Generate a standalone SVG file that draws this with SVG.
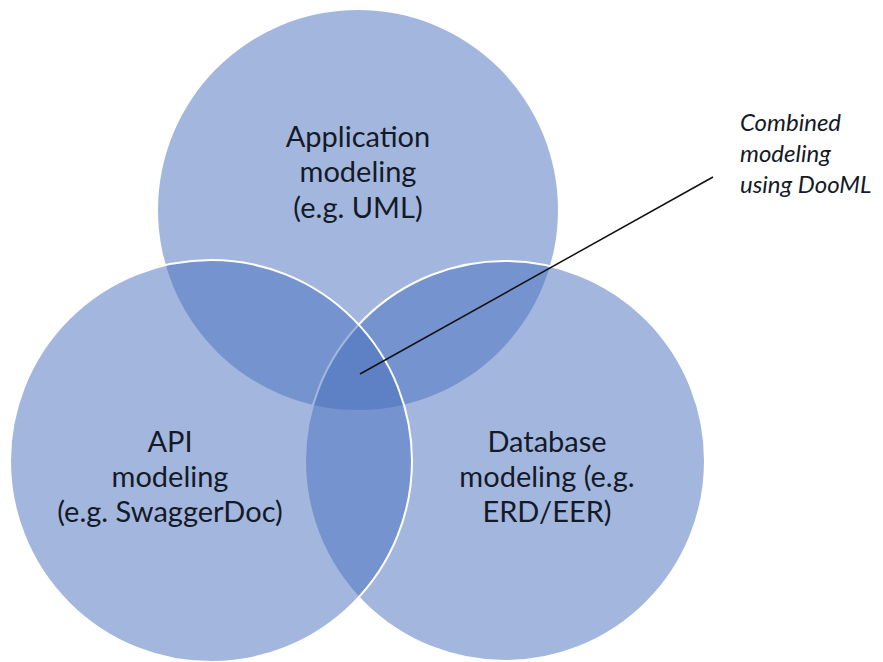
<svg xmlns="http://www.w3.org/2000/svg" width="883" height="662" viewBox="0 0 883 662">
<style>
.c{fill:#476fbd;fill-opacity:0.5;stroke:#ffffff;stroke-width:2}
.lbl{font-family:Lato,"Open Sans","Liberation Sans",sans-serif;font-size:29px;fill:#141a28;text-anchor:middle}
.note{font-family:Lato,"Open Sans","Liberation Sans",sans-serif;font-size:24px;font-style:italic;fill:#141a28}
</style>
<rect width="883" height="662" fill="#ffffff"/>
<g id="application">
<circle class="c" cx="358" cy="210" r="200" style="stroke:none"/>
<text class="lbl" x="358" y="147">Application</text>
<text class="lbl" x="358" y="182">modeling</text>
<text class="lbl" x="358" y="218">(e.g. UML)</text>
</g>
<g id="database">
<circle class="c" cx="505" cy="461" r="200"/>
<text class="lbl" x="547" y="452">Database</text>
<text class="lbl" x="547" y="487">modeling (e.g.</text>
<text class="lbl" x="547" y="522">ERD/EER)</text>
</g>
<g id="api">
<circle class="c" cx="211" cy="461" r="201"/>
<text class="lbl" x="170" y="452">API</text>
<text class="lbl" x="170" y="487">modeling</text>
<text class="lbl" x="170" y="522">(e.g. SwaggerDoc)</text>
</g>
<g id="connectors">
<line x1="360" y1="374" x2="713" y2="177" stroke="#111111" stroke-width="1.5"/>
</g>
<g id="combined">
<text class="note" x="740" y="131">Combined</text>
<text class="note" x="740" y="162">modeling</text>
<text class="note" x="740" y="193">using DooML</text>
</g>
</svg>
